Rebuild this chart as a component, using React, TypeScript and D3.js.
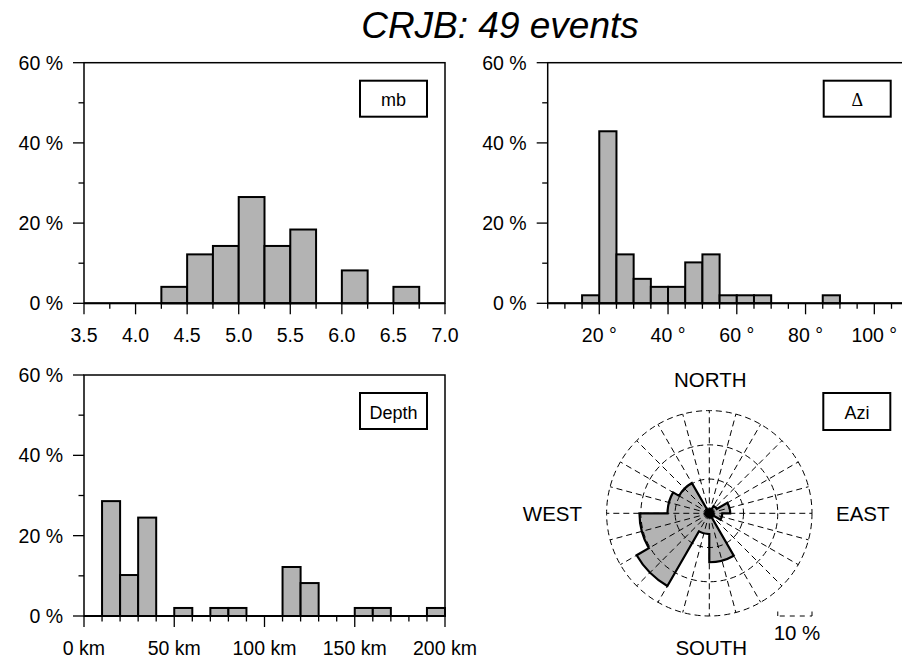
import React from "react";
import * as d3 from "d3";

// ---------- data ----------
const TITLE = "CRJB: 49 events";

const mbBinStarts = [4.25, 4.5, 4.75, 5.0, 5.25, 5.5, 5.75, 6.0, 6.25, 6.5];
const mbPercents = [4.1, 12.2, 14.3, 26.5, 14.3, 18.4, 0, 8.2, 0, 4.1];
const mbBinWidth = 0.25;
const mbMajorTicks = [3.5, 4.0, 4.5, 5.0, 5.5, 6.0, 6.5, 7.0];
const mbMinorTicks = [3.75, 4.25, 4.75, 5.25, 5.75, 6.25, 6.75];

const deltaBinStarts = [15, 20, 25, 30, 35, 40, 45, 50, 55, 60, 65, 70, 75, 80, 85];
const deltaPercents = [2.0, 42.9, 12.2, 6.1, 4.1, 4.1, 10.2, 12.2, 2.0, 2.0, 2.0, 0, 0, 0, 2.0];
const deltaBinWidth = 5;
const deltaMajorTicks = [20, 40, 60, 80, 100];
const deltaMinorTicks = [5, 10, 15, 25, 30, 35, 45, 50, 55, 65, 70, 75, 85, 90, 95, 105];

const depthBinStarts = [10, 20, 30, 40, 50, 60, 70, 80, 90, 100, 110, 120, 130, 140, 150, 160, 170, 180, 190];
const depthPercents = [28.6, 10.2, 24.5, 0, 2.0, 0, 2.0, 2.0, 0, 0, 12.2, 8.2, 0, 0, 2.0, 2.0, 0, 0, 2.0];
const depthBinWidth = 10;
const depthMajorTicks = [0, 50, 100, 150, 200];
const depthMinorTicks = [10, 20, 30, 40, 60, 70, 80, 90, 110, 120, 130, 140, 160, 170, 180, 190];

const pctMajorTicks = [0, 20, 40, 60];
const pctMinorTicks = [10, 30, 50];

const aziBinStarts = [0, 30, 60, 90, 120, 150, 180, 210, 240, 270, 300, 330];
const aziPercents = [0, 2.5, 6.1, 3.8, 0, 14.3, 6.1, 24.5, 20.4, 12.2, 10.2, 0];
const aziBinWidth = 30;
const aziRings = [10, 20, 30];
const aziSpokeStep = 15;

// ---------- styles ----------
const FONT = "'Liberation Sans', Arial, Helvetica, sans-serif";
const GRAY = "#b3b3b3";
const TICK_FS = 19.5;

type HistProps = {
  left: number;
  top: number;
  width: number;
  height: number;
  domain: [number, number];
  binStarts: number[];
  percents: number[];
  binWidth: number;
  majorTicks: number[];
  minorTicks: number[];
  fmt: (v: number) => string;
  legend: string;
  legendFont?: string;
  legendSize?: number;
  clipId: string;
};

function Histogram(p: HistProps) {
  const x = d3.scaleLinear().domain(p.domain).range([p.left, p.left + p.width]);
  const y = d3.scaleLinear().domain([0, 60]).range([p.top + p.height, p.top]);
  const bottom = p.top + p.height;
  const bars = p.binStarts
    .map((s, i) => ({ s, v: p.percents[i] }))
    .filter((b) => b.v > 0);
  return (
    <g>
      <defs>
        <clipPath id={p.clipId}>
          <rect x={p.left - 2} y={p.top - 2} width={p.width + 4} height={p.height + 4} />
        </clipPath>
      </defs>
      <g clipPath={`url(#${p.clipId})`}>
        {bars.map((b, i) => (
          <rect
            key={i}
            x={x(b.s)}
            y={y(b.v)}
            width={x(b.s + p.binWidth) - x(b.s)}
            height={bottom - y(b.v)}
            fill={GRAY}
            stroke="#000"
            strokeWidth={2}
          />
        ))}
      </g>
      <rect x={p.left} y={p.top} width={p.width} height={p.height} fill="none" stroke="#000" strokeWidth={1.5} />
      <line x1={p.left} x2={p.left + p.width} y1={bottom} y2={bottom} stroke="#000" strokeWidth={2} />
      {/* y ticks */}
      {pctMajorTicks.map((t) => (
        <g key={"ym" + t}>
          <line x1={p.left - 11} x2={p.left} y1={y(t)} y2={y(t)} stroke="#000" strokeWidth={1.3} />
          <text x={p.left - 21} y={y(t) + 7} textAnchor="end" fontFamily={FONT} fontSize={TICK_FS}>
            {t} %
          </text>
        </g>
      ))}
      {pctMinorTicks.map((t) => (
        <line key={"yn" + t} x1={p.left - 5.5} x2={p.left} y1={y(t)} y2={y(t)} stroke="#000" strokeWidth={1.3} />
      ))}
      {/* x ticks */}
      {p.majorTicks.map((t) => (
        <g key={"xm" + t}>
          <line x1={x(t)} x2={x(t)} y1={bottom} y2={bottom + 11} stroke="#000" strokeWidth={1.3} />
          <text x={x(t)} y={bottom + 38.5} textAnchor="middle" fontFamily={FONT} fontSize={TICK_FS}>
            {p.fmt(t)}
          </text>
        </g>
      ))}
      {p.minorTicks.map((t) => (
        <line key={"xn" + t} x1={x(t)} x2={x(t)} y1={bottom} y2={bottom + 5.5} stroke="#000" strokeWidth={1.3} />
      ))}
      {/* legend box */}
      <rect x={p.left + 276} y={p.top + 18} width={67} height={36} fill="#fff" stroke="#000" strokeWidth={2} />
      <text
        x={p.left + 309.5}
        y={p.top + 43.5}
        textAnchor="middle"
        fontFamily={p.legendFont || FONT}
        fontSize={p.legendSize || 18}
      >
        {p.legend}
      </text>
    </g>
  );
}

function Rose() {
  const cx = 709.3;
  const cy = 513.3;
  const R = 102.7;
  const r = d3.scaleLinear().domain([0, 30]).range([0, R]);
  const rad = (az: number) => ((az - 90) * Math.PI) / 180;
  const p = d3.path();
  aziBinStarts.forEach((a, i) => {
    const rr = r(aziPercents[i]);
    const a0 = rad(a);
    const a1 = rad(a + aziBinWidth);
    if (i === 0) p.moveTo(cx + rr * Math.cos(a0), cy + rr * Math.sin(a0));
    if (rr <= 0) p.lineTo(cx, cy);
    else p.arc(cx, cy, rr, a0, a1, false);
  });
  p.closePath();
  const envelope = p.toString();
  const spokes = d3.range(0, 360, aziSpokeStep);
  const dash = "6,4";
  const CFS = 20.5;
  return (
    <g>
      <path d={envelope} fill={GRAY} stroke="none" />
      {aziRings.map((v) => (
        <circle key={v} cx={cx} cy={cy} r={r(v)} fill="none" stroke="#000" strokeWidth={1} strokeDasharray={dash} />
      ))}
      {spokes.map((a) => (
        <line
          key={a}
          x1={cx}
          y1={cy}
          x2={cx + R * Math.cos(rad(a))}
          y2={cy + R * Math.sin(rad(a))}
          stroke="#000"
          strokeWidth={1}
          strokeDasharray={dash}
        />
      ))}
      <path d={envelope} fill="none" stroke="#000" strokeWidth={2.2} strokeLinejoin="miter" />
      <circle cx={cx} cy={cy} r={5} fill="#000" />
      <text x={cx + 1} y={387} textAnchor="middle" fontFamily={FONT} fontSize={CFS}>NORTH</text>
      <text x={cx + 2} y={655} textAnchor="middle" fontFamily={FONT} fontSize={CFS}>SOUTH</text>
      <text x={582} y={521} textAnchor="end" fontFamily={FONT} fontSize={CFS}>WEST</text>
      <text x={836} y={521} textAnchor="start" fontFamily={FONT} fontSize={CFS}>EAST</text>
      {/* scale bar */}
      <line x1={cx + R - r(10)} x2={cx + R} y1={616} y2={616} stroke="#000" strokeWidth={1} strokeDasharray="5,5" strokeDashoffset={-2} />
      <line x1={cx + R - r(10)} x2={cx + R - r(10)} y1={611.5} y2={616} stroke="#000" strokeWidth={1} />
      <line x1={cx + R} x2={cx + R} y1={611.5} y2={616} stroke="#000" strokeWidth={1} />
      <text x={797} y={640} textAnchor="middle" fontFamily={FONT} fontSize={CFS}>10 %</text>
      {/* legend box */}
      <rect x={823.3} y={393} width={67} height={37} fill="#fff" stroke="#000" strokeWidth={2} />
      <text x={857} y={418.5} textAnchor="middle" fontFamily={FONT} fontSize={18}>Azi</text>
    </g>
  );
}

export default function App() {
  return (
    <svg
      width={902}
      height={662}
      viewBox="0 0 902 662"
      style={{ position: "absolute", left: 0, top: 0, background: "#fff" }}
    >
      <rect x={0} y={0} width={902} height={662} fill="#fff" />
      <text x={500} y={37.5} textAnchor="middle" fontFamily={FONT} fontStyle="italic" fontSize={37}>
        {TITLE}
      </text>
      <Histogram
        left={84}
        top={62.7}
        width={361}
        height={240.6}
        domain={[3.5, 7.0]}
        binStarts={mbBinStarts}
        percents={mbPercents}
        binWidth={mbBinWidth}
        majorTicks={mbMajorTicks}
        minorTicks={mbMinorTicks}
        fmt={(v) => v.toFixed(1)}
        legend="mb"
        clipId="c1"
      />
      <Histogram
        left={547.7}
        top={62.7}
        width={361}
        height={240.6}
        domain={[5, 110]}
        binStarts={deltaBinStarts}
        percents={deltaPercents}
        binWidth={deltaBinWidth}
        majorTicks={deltaMajorTicks}
        minorTicks={deltaMinorTicks}
        fmt={(v) => `${v} °`}
        legend="Δ"
        legendFont="'Liberation Serif', 'DejaVu Serif', serif"
        legendSize={18}
        clipId="c2"
      />
      <Histogram
        left={84}
        top={375}
        width={361}
        height={241}
        domain={[0, 200]}
        binStarts={depthBinStarts}
        percents={depthPercents}
        binWidth={depthBinWidth}
        majorTicks={depthMajorTicks}
        minorTicks={depthMinorTicks}
        fmt={(v) => `${v} km`}
        legend="Depth"
        clipId="c3"
      />
      <Rose />
    </svg>
  );
}
